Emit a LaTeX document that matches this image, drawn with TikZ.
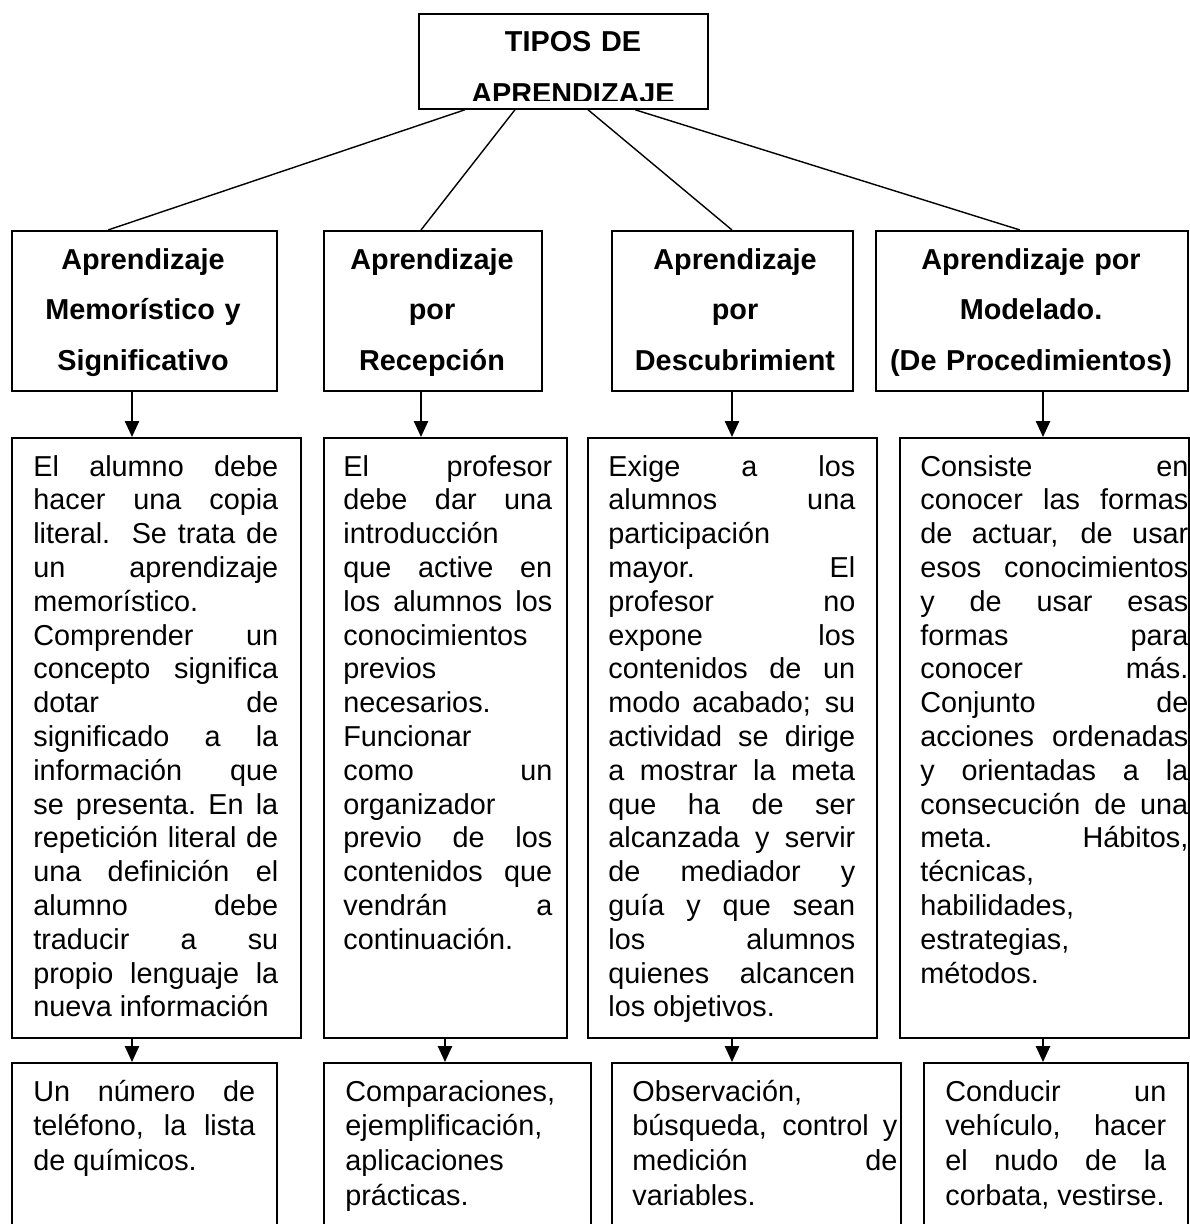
\documentclass[tikz,border=0pt]{standalone}
\usepackage{fontspec}
\setmainfont{Liberation Sans}
\usetikzlibrary{calc,arrows.meta}
% linea justificada: los espacios se estiran hasta el ancho del texto
\newcommand{\jl}[1]{{\spaceskip=0.278em plus 1fill\relax\xspaceskip=\spaceskip #1}}

\begin{document}
\begin{tikzpicture}[
  x=0.02cm, y=-0.02cm,
  caja/.style={draw,line width=1pt,rectangle,inner sep=0,anchor=north west},
  titulo/.style={font=\bfseries\fontsize{16.4pt}{29pt}\selectfont,text width=7cm,align=center,anchor=base,inner sep=0},
  texto/.style={font=\fontsize{16.4pt}{19.24pt}\selectfont,text width=#1,align=flush left,anchor=base west,inner sep=0},
  ejemplo/.style={font=\fontsize{16.4pt}{19.9pt}\selectfont,text width=#1,align=flush left,anchor=base west,inner sep=0},
  flecha/.style={line width=1pt,-{Triangle[width=8pt,length=9pt]}},
  linea/.style={line width=0.8pt}
    ]
\useasboundingbox (0,0) rectangle (1190,1224);
\clip (0,0) rectangle (1190,1224);

% cajas
\node[caja,minimum width=5.78cm,minimum height=1.9cm] (tipos) at (418,13) {};
\node[caja,minimum width=5.3cm,minimum height=3.2cm] (memo) at (11,230) {};
\node[caja,minimum width=4.36cm,minimum height=3.2cm] (recep) at (323,230) {};
\node[caja,minimum width=4.82cm,minimum height=3.2cm] (desc) at (611,230) {};
\node[caja,minimum width=6.24cm,minimum height=3.2cm] (mode) at (875,230) {};
\node[caja,minimum width=5.78cm,minimum height=12cm] (memo2) at (11,437) {};
\node[caja,minimum width=4.86cm,minimum height=12cm] (recep2) at (323,437) {};
\node[caja,minimum width=5.78cm,minimum height=12cm] (desc2) at (587,437) {};
\node[caja,minimum width=5.78cm,minimum height=12cm] (mode2) at (899,437) {};
\node[caja,minimum width=5.3cm,minimum height=4.8cm] (memo3) at (11,1062) {};
\node[caja,minimum width=5.34cm,minimum height=4.8cm] (recep3) at (323,1062) {};
\node[caja,minimum width=5.78cm,minimum height=4.8cm] (desc3) at (611,1062) {};
\node[caja,minimum width=5.28cm,minimum height=4.8cm] (mode3) at (923,1062) {};

% titulo recortado
\begin{scope}
\clip (tipos.north west) rectangle ($(tipos.south east)+(0,-9)$);
\node[titulo,font=\bfseries\fontsize{16.4pt}{30pt}\selectfont] (tiposT) at (573,51) {TIPOS DE\\APRENDIZAJE};
\end{scope}

\node[titulo] (memoT) at (143,269) {Aprendizaje\\Memorístico y\\Significativo};
\node[titulo] (recepT) at (432,269) {Aprendizaje\\por\\Recepción};
\node[titulo] (descT) at (735,269) {Aprendizaje\\por\\Descubrimient};
\node[titulo] (modeT) at (1031,269) {Aprendizaje por\\Modelado.\\(De Procedimientos)};

\node[texto=4.9cm] (memoD) at (33,476) {\jl{El alumno debe}\\\jl{hacer una copia}\\
  \jl{literal.\ \ Se trata de}\\\jl{un aprendizaje}\\memorístico.\\\jl{Comprender un}\\
  \jl{concepto significa}\\\jl{dotar de}\\\jl{significado a la}\\\jl{información que}\\
  \jl{se presenta. En la}\\\jl{repetición literal de}\\\jl{una definición el}\\
  \jl{alumno debe}\\\jl{traducir a su}\\\jl{propio lenguaje la}\\nueva información};
\node[texto=4.18cm] (recepD) at (343,476) {\jl{El profesor}\\\jl{debe dar una}\\
  introducción\\\jl{que active en}\\\jl{los alumnos los}\\conocimientos\\previos\\
  necesarios.\\Funcionar\\\jl{como un}\\organizador\\\jl{previo de los}\\
  \jl{contenidos que}\\\jl{vendrán a}\\continuación.};
\node[texto=4.94cm] (descD) at (608,476) {\jl{Exige a los}\\\jl{alumnos una}\\
  participación\\\jl{mayor. El}\\\jl{profesor no}\\\jl{expone los}\\\jl{contenidos de un}\\
  \jl{modo acabado; su}\\\jl{actividad se dirige}\\\jl{a mostrar la meta}\\
  \jl{que ha de ser}\\\jl{alcanzada y servir}\\\jl{de mediador y}\\\jl{guía y que sean}\\
  \jl{los alumnos}\\\jl{quienes alcancen}\\los objetivos.};
\node[texto=5.36cm] (modeD) at (920,476) {\jl{Consiste en}\\\jl{conocer las formas}\\
  \jl{de actuar, de usar}\\\jl{esos conocimientos}\\\jl{y de usar esas}\\\jl{formas para}\\
  \jl{conocer más.}\\\jl{Conjunto de}\\\jl{acciones ordenadas}\\\jl{y orientadas a la}\\
  \jl{consecución de una}\\\jl{meta. Hábitos,}\\técnicas,\\habilidades,\\estrategias,\\métodos.};

\node[ejemplo=4.44cm] (memoE) at (33,1101) {\jl{Un número de}\\\jl{teléfono, la lista}\\de químicos.};
\node[ejemplo=4.5cm] (recepE) at (345,1101) {Comparaciones,\\ejemplificación,\\aplicaciones\\prácticas.};
\node[ejemplo=5.3cm] (descE) at (632,1101) {Observación,\\\jl{búsqueda, control y}\\\jl{medición de}\\variables.};
\node[ejemplo=4.42cm] (modeE) at (945,1101) {\jl{Conducir un}\\\jl{vehículo, hacer}\\\jl{el nudo de la}\\\mbox{corbata, vestirse.}};

% conectores
\draw[linea] ($(tipos.south west)+(47,0)$) -- ($(memo.north west)+(97,0)$);
\draw[linea] ($(tipos.south west)+(97,0)$) -- ($(recep.north west)+(98,0)$);
\draw[linea] ($(tipos.south west)+(170,0)$) -- ($(desc.north west)+(121,0)$);
\draw[linea] ($(tipos.south west)+(217,0)$) -- ($(mode.north west)+(145,0)$);

\coordinate (a1) at (132,0);
\coordinate (a2) at (421,0);
\coordinate (a3) at (732,0);
\coordinate (a4) at (1043,0);
\coordinate (b2) at (445,0);
\draw[flecha] (memo.south -| a1) -- (memo2.north -| a1);
\draw[flecha] (recep.south -| a2) -- (recep2.north -| a2);
\draw[flecha] (desc.south -| a3) -- (desc2.north -| a3);
\draw[flecha] (mode.south -| a4) -- (mode2.north -| a4);
\draw[flecha] (memo2.south -| a1) -- (memo3.north -| a1);
\draw[flecha] (recep2.south -| b2) -- (recep3.north -| b2);
\draw[flecha] (desc2.south -| a3) -- (desc3.north -| a3);
\draw[flecha] (mode2.south -| a4) -- (mode3.north -| a4);
\end{tikzpicture}
\end{document}
